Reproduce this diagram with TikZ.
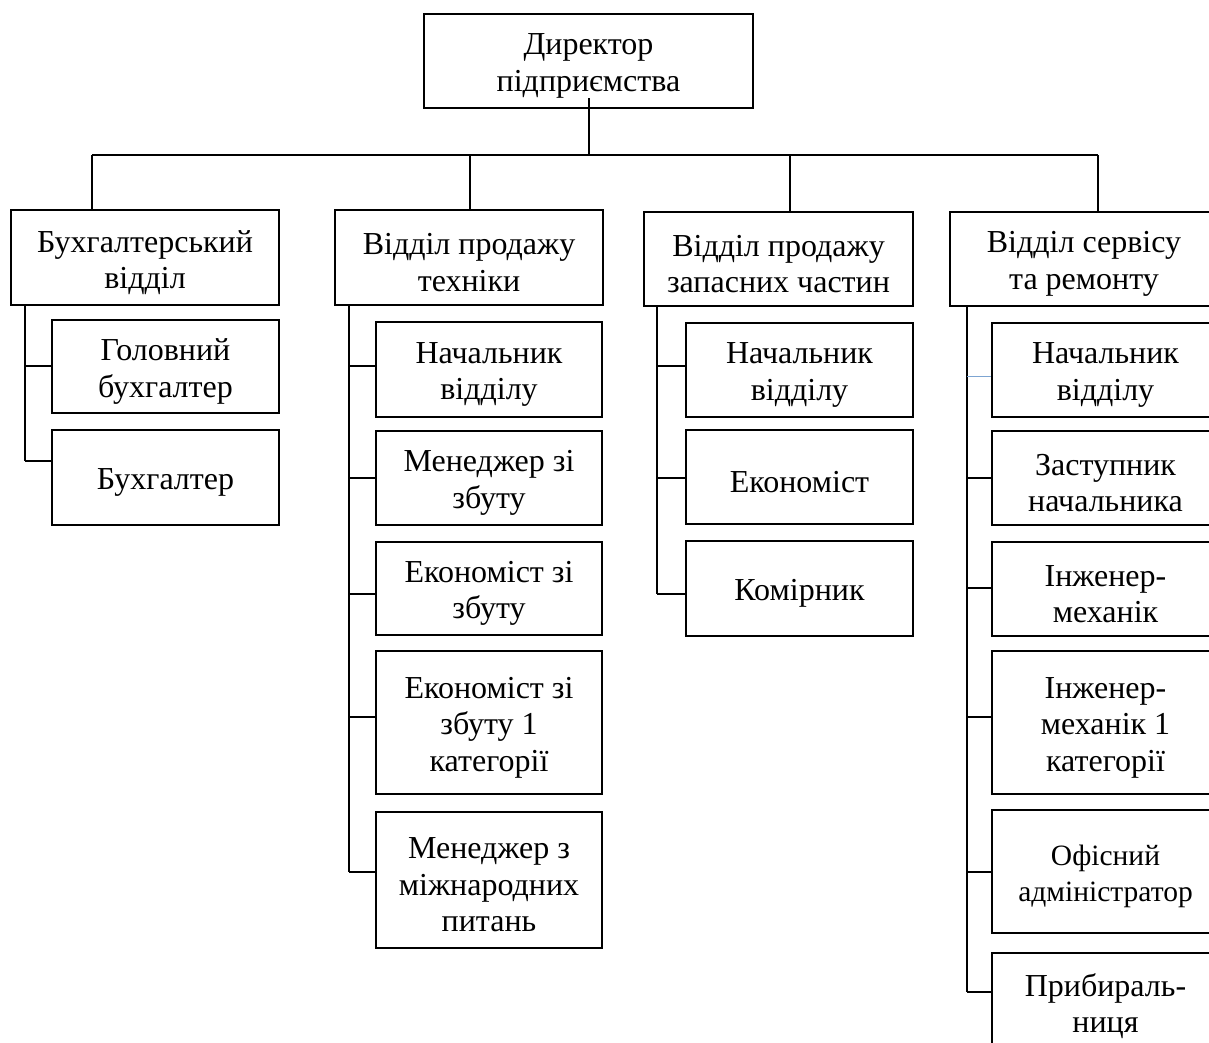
\documentclass[tikz,border=0pt]{standalone}
\usepackage{fontspec}
\setmainfont{Liberation Serif}
\definecolor{lblue}{RGB}{125,165,210}
\newcommand{\orgbox}[6][]{%
  \node[box, minimum width=#4pt, minimum height=#5pt] (#2) at (#3) {};
  \node[txt, #1] (#2t) at ([yshift=-5pt]#2.center) {#6};}
\begin{document}
\begin{tikzpicture}[x=1pt,y=-1pt,
  box/.style={draw, line width=1.3pt, inner sep=0pt},
  txt/.style={align=center, inner sep=0pt, font=\fontsize{32}{36.5}\selectfont},
  small/.style={font=\fontsize{29.5}{36}\selectfont},
  conn/.style={line width=1.3pt},
]
\clip (0,0) rectangle (1209,1042);
\fill[white] (0,0) rectangle (1209,1042);
% director
\orgbox{dir}{588.5,61}{329}{94}{Директор\\підприємства}
% departments
\orgbox{d1}{145,257.5}{268}{95}{Бухгалтерський\\відділ}
\orgbox{d2}{469,257.5}{268}{95}{Відділ продажу\\техніки}
\orgbox{d3}{778.5,259}{269}{94}{Відділ продажу\\запасних частин}
\orgbox{d4}{1084,259}{268}{94}{Відділ сервісу\\та ремонту}
% column 1
\orgbox{s11}{165.5,366.5}{227}{93}{Головний\\бухгалтер}
\orgbox{s12}{165.5,477.5}{227}{95}{Бухгалтер}
% column 2
\orgbox{s21}{489,369.5}{226}{95}{Начальник\\відділу}
\orgbox{s22}{489,478}{226}{94}{Менеджер зі\\збуту}
\orgbox{s23}{489,588.5}{226}{93}{Економіст зі\\збуту}
\orgbox{s24}{489,722.5}{226}{143}{Економіст зі\\збуту 1\\категорії}
\orgbox{s25}{489,880}{226}{136}{Менеджер з\\міжнародних\\питань}
% column 3
\orgbox{s31}{799.5,370}{227}{94}{Начальник\\відділу}
\orgbox{s32}{799.5,477}{227}{94}{Економіст}
\orgbox{s33}{799.5,588.5}{227}{95}{Комірник}
% column 4
\orgbox{s41}{1105.5,370}{227}{94}{Начальник\\відділу}
\orgbox{s42}{1105.5,478}{227}{94}{Заступник\\начальника}
\orgbox{s43}{1105.5,589}{227}{94}{Інженер-\\механік}
\orgbox{s44}{1105.5,722.5}{227}{143}{Інженер-\\механік 1\\категорії}
\orgbox[small]{s45}{1105.5,871.5}{227}{123}{Офісний\\адміністратор}
\orgbox{s46}{1105.5,1001}{227}{96}{Прибираль-\\ниця}
% top bus
\coordinate (bus) at (589,155);
\coordinate (t1) at (92,155);
\coordinate (t2) at (470,155);
\coordinate (t3) at (790,155);
\coordinate (t4) at (1098,155);
\coordinate (dtop) at (589,98);
\draw[conn] (dtop) -- (bus);
\draw[conn] (t1) -- (t4);
\draw[conn] (t1) -- (t1 |- d1.north);
\draw[conn] (t2) -- (t2 |- d2.north);
\draw[conn] (t3) -- (t3 |- d3.north);
\draw[conn] (t4) -- (t4 |- d4.north);
% column 1 bus
\coordinate (a0) at (25,305);
\coordinate (a1) at (25,366);
\coordinate (a2) at (25,461);
\draw[conn] (a0) -- (a2);
\draw[conn] (a1) -- (a1 -| s11.west);
\draw[conn] (a2) -- (a2 -| s12.west);
% column 2 bus
\coordinate (b0) at (349,305);
\coordinate (b1) at (349,366);
\coordinate (b2) at (349,478);
\coordinate (b3) at (349,594);
\coordinate (b4) at (349,717);
\coordinate (b5) at (349,872);
\draw[conn] (b0) -- (b5);
\draw[conn] (b1) -- (b1 -| s21.west);
\draw[conn] (b2) -- (b2 -| s22.west);
\draw[conn] (b3) -- (b3 -| s23.west);
\draw[conn] (b4) -- (b4 -| s24.west);
\draw[conn] (b5) -- (b5 -| s25.west);
% column 3 bus
\coordinate (c0) at (657,306);
\coordinate (c1) at (657,366);
\coordinate (c2) at (657,478);
\coordinate (c3) at (657,594);
\draw[conn] (c0) -- (c3);
\draw[conn] (c1) -- (c1 -| s31.west);
\draw[conn] (c2) -- (c2 -| s32.west);
\draw[conn] (c3) -- (c3 -| s33.west);
% column 4 bus
\coordinate (e0) at (967,306);
\coordinate (e1) at (967,376);
\coordinate (e2) at (967,478);
\coordinate (e3) at (967,588);
\coordinate (e4) at (967,717);
\coordinate (e5) at (967,872);
\coordinate (e6) at (967,992);
\draw[conn] (e0) -- (e6);
\draw[conn, lblue, line width=1pt] (e1) -- (e1 -| s41.west);
\draw[conn] (e2) -- (e2 -| s42.west);
\draw[conn] (e3) -- (e3 -| s43.west);
\draw[conn] (e4) -- (e4 -| s44.west);
\draw[conn] (e5) -- (e5 -| s45.west);
\draw[conn] (e6) -- (e6 -| s46.west);
\end{tikzpicture}
\end{document}
